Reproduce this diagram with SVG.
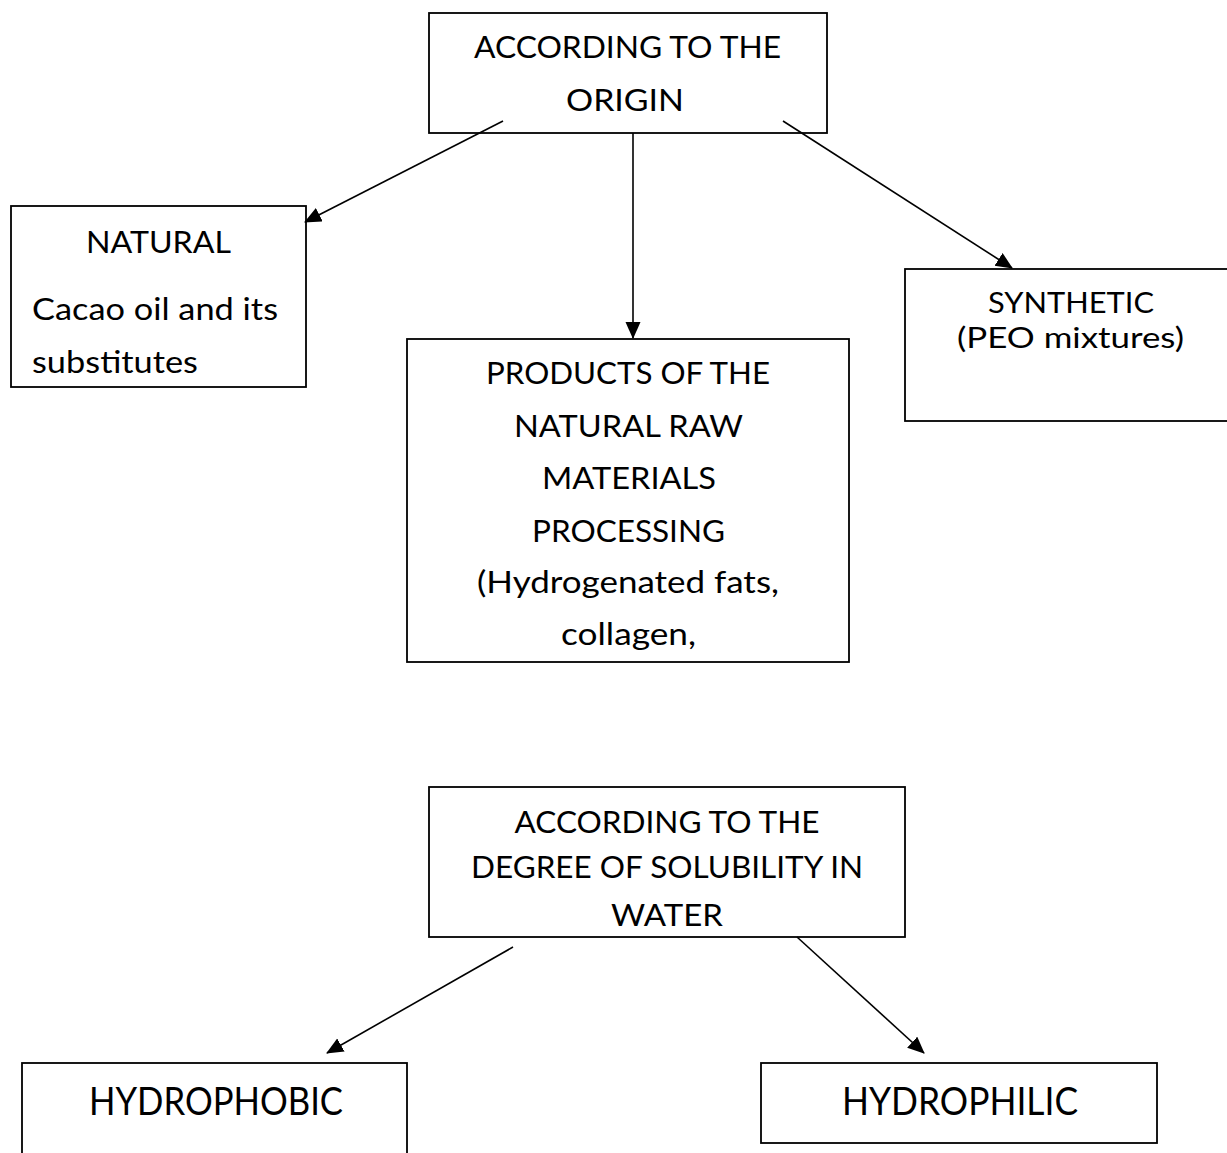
<svg xmlns="http://www.w3.org/2000/svg" width="1227" height="1153" viewBox="0 0 1227 1153">
  <style>
    .box { fill: #ffffff; stroke: #000000; stroke-width: 1.8; }
    .t { font-family: Lato, "Open Sans", "Liberation Sans", sans-serif; font-size: 30px; fill: #000000; text-anchor: middle; }
    .l { text-anchor: start; }
    .big { font-size: 38px; }
    .tight { font-size: 28px; }
    .conn line { stroke: #000000; stroke-width: 1.6; fill: none; marker-end: url(#arrow); }
  </style>
  <defs>
    <marker id="arrow" markerUnits="userSpaceOnUse" markerWidth="18" markerHeight="16" refX="16" refY="7.5" orient="auto">
      <path d="M0,0 L17,7.5 L0,15 Z" fill="#000000"/>
    </marker>
    <clipPath id="clipProducts">
      <rect x="407" y="339" width="442" height="313"/>
    </clipPath>
  </defs>
  <rect width="1227" height="1153" fill="#ffffff"/>

  <g id="node-origin">
    <rect class="box" x="429" y="13" width="398" height="120"/>
    <text class="t" x="627.5" y="58" textLength="307" lengthAdjust="spacingAndGlyphs">ACCORDING TO THE</text>
    <text class="t" x="625" y="111" textLength="118" lengthAdjust="spacingAndGlyphs">ORIGIN</text>
  </g>

  <g id="node-natural">
    <rect class="box" x="11" y="206" width="295" height="181"/>
    <text class="t" x="158.5" y="253" textLength="145" lengthAdjust="spacingAndGlyphs">NATURAL</text>
    <text class="t l" x="32" y="320" textLength="246" lengthAdjust="spacingAndGlyphs">Cacao oil and its</text>
    <text class="t l" x="32" y="373" textLength="166" lengthAdjust="spacingAndGlyphs">substitutes</text>
  </g>

  <g id="node-products">
    <rect class="box" x="407" y="339" width="442" height="323"/>
    <g clip-path="url(#clipProducts)">
      <text class="t" x="628" y="384" textLength="284" lengthAdjust="spacingAndGlyphs">PRODUCTS OF THE</text>
      <text class="t" x="628.5" y="437" textLength="229" lengthAdjust="spacingAndGlyphs">NATURAL RAW</text>
      <text class="t" x="629" y="489" textLength="174" lengthAdjust="spacingAndGlyphs">MATERIALS</text>
      <text class="t" x="628.5" y="542" textLength="193" lengthAdjust="spacingAndGlyphs">PROCESSING</text>
      <text class="t" x="628" y="593" textLength="302" lengthAdjust="spacingAndGlyphs">(Hydrogenated fats,</text>
      <text class="t" x="628.5" y="645" textLength="135" lengthAdjust="spacingAndGlyphs">collagen,</text>
    </g>
  </g>

  <g id="node-synthetic">
    <rect class="box" x="905" y="269" width="340" height="152"/>
    <text class="t tight" x="1071" y="313" textLength="166" lengthAdjust="spacingAndGlyphs">SYNTHETIC</text>
    <text class="t tight" x="1070.5" y="348" textLength="227" lengthAdjust="spacingAndGlyphs">(PEO mixtures)</text>
  </g>

  <g id="node-solubility">
    <rect class="box" x="429" y="787" width="476" height="150"/>
    <text class="t" x="667" y="833" textLength="305" lengthAdjust="spacingAndGlyphs">ACCORDING TO THE</text>
    <text class="t" x="667" y="878" textLength="392" lengthAdjust="spacingAndGlyphs">DEGREE OF SOLUBILITY IN</text>
    <text class="t" x="667" y="926" textLength="112" lengthAdjust="spacingAndGlyphs">WATER</text>
  </g>

  <g id="node-hydrophobic">
    <rect class="box" x="22" y="1063" width="385" height="120"/>
    <text class="t big" x="216" y="1115" textLength="254" lengthAdjust="spacingAndGlyphs">HYDROPHOBIC</text>
  </g>

  <g id="node-hydrophilic">
    <rect class="box" x="761" y="1063" width="396" height="80"/>
    <text class="t big" x="960" y="1115" textLength="236" lengthAdjust="spacingAndGlyphs">HYDROPHILIC</text>
  </g>

  <g id="connectors" class="conn">
    <line x1="503" y1="121" x2="305" y2="222"/>
    <line x1="633" y1="133" x2="633" y2="338"/>
    <line x1="783" y1="121" x2="1012" y2="268"/>
    <line x1="513" y1="947" x2="327" y2="1053"/>
    <line x1="797" y1="937" x2="924" y2="1053"/>
  </g>
</svg>
